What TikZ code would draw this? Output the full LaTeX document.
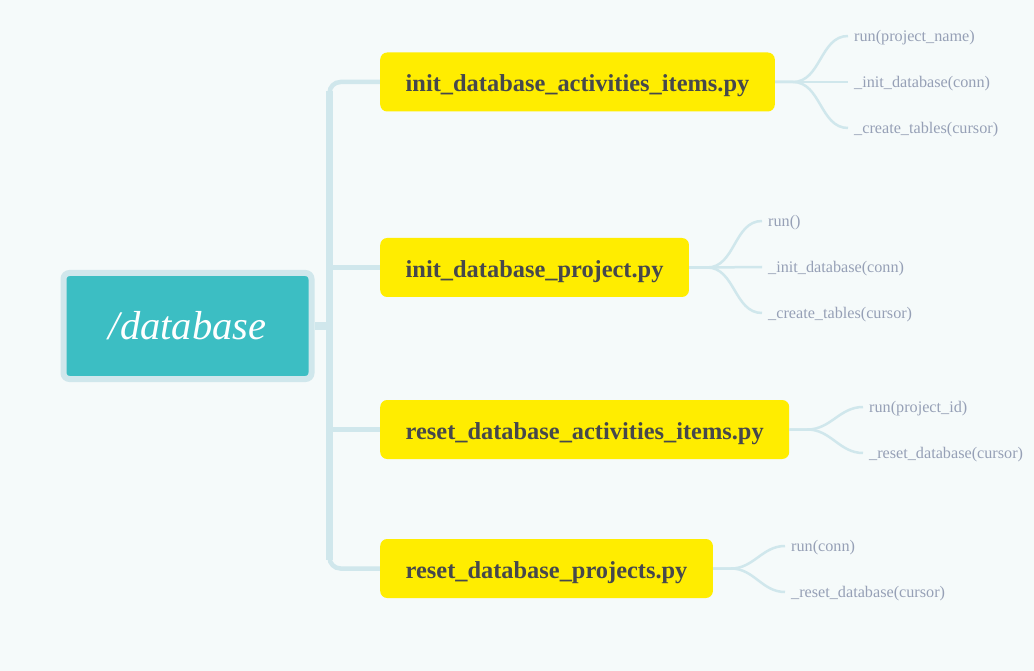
\documentclass[tikz,border=0pt]{standalone}
\usepackage{fontspec}
\setmainfont{Liberation Serif}
\usetikzlibrary{positioning, backgrounds}
\definecolor{bgcol}{RGB}{245,250,250}
\definecolor{linecol}{RGB}{208,231,236}
\definecolor{rootcol}{RGB}{60,190,195}
\definecolor{filecol}{RGB}{255,237,0}
\definecolor{textcol}{RGB}{70,72,76}
\definecolor{leafcol}{RGB}{150,160,182}
\tikzset{rootbox/.style = {draw=linecol, line width=6pt, fill=rootcol, rounded corners=6pt,
		minimum width=248pt, minimum height=106pt, text=white, font=\fontsize{40.5}{44}\selectfont\itshape},
	filebox/.style = {fill=filecol, rounded corners=7pt, minimum height=59pt, anchor=west,
		inner xsep=25.5pt, text height=19.5pt, text depth=0pt, text=textcol,
		font=\fontsize{24.4}{28}\selectfont\bfseries},
	leaf/.style = {anchor=west, inner xsep=6pt, inner ysep=2pt, text height=11pt, text depth=0pt,
		text=leafcol, font=\fontsize{16.2}{18}\selectfont},
	trunk/.style = {draw=linecol, line width=7.5pt},
	branch/.style = {draw=linecol, line width=4.5pt, rounded corners=11pt},
	twig/.style = {draw=linecol, line width=2.5pt}}
\NewDocumentCommand{\twigto}{m m}{%
	\draw[twig] (#1.east) -- ++(18,0) to[out=0,in=180] (#2.west);
}

\begin{document}
\begin{tikzpicture}[x=1pt,y=-1pt]
\useasboundingbox (0,0) rectangle (1034,671);
\node[rootbox] (root) at (187.5,326) {/database};
% files
\node[filebox] (f1) at (380,82) {init\_database\_activities\_items.py};
\node[filebox] (f2) at (380,267.5) {init\_database\_project.py};
\node[filebox] (f3) at (380,429.5) {reset\_database\_activities\_items.py};
\node[filebox] (f4) at (380,568.5) {reset\_database\_projects.py};
\begin{scope}[on background layer]
\fill[bgcol] (0,0) rectangle (1034,671);
\coordinate (t) at (329.5,326);
\draw[branch] (f1.west) -| (t) |- (f4.west);
\draw[branch] (f2.west) -- (f2.west -| t);
\draw[branch] (f3.west) -- (f3.west -| t);
\draw[trunk] (root.east) -- (t);
\draw[trunk] ([yshift=-9pt]t |- f1.west) -- ([yshift=9pt]t |- f4.west);
\end{scope}
% leaves
\node[leaf] (l11) at (848,36) {run(project\_name)};
\node[leaf] (l12) at (848,82) {\_init\_database(conn)};
\node[leaf] (l13) at (848,128) {\_create\_tables(cursor)};
\node[leaf] (l21) at (762,221) {run()};
\node[leaf] (l22) at (762,267) {\_init\_database(conn)};
\node[leaf] (l23) at (762,313) {\_create\_tables(cursor)};
\node[leaf] (l31) at (863,407) {run(project\_id)};
\node[leaf] (l32) at (863,453) {\_reset\_database(cursor)};
\node[leaf] (l41) at (785,546) {run(conn)};
\node[leaf] (l42) at (785,592) {\_reset\_database(cursor)};
\foreach \f/\l in {f1/l11,f1/l12,f1/l13,f2/l21,f2/l22,f2/l23,f3/l31,f3/l32,f4/l41,f4/l42}
	\twigto{\f}{\l};
\end{tikzpicture}
\end{document}
